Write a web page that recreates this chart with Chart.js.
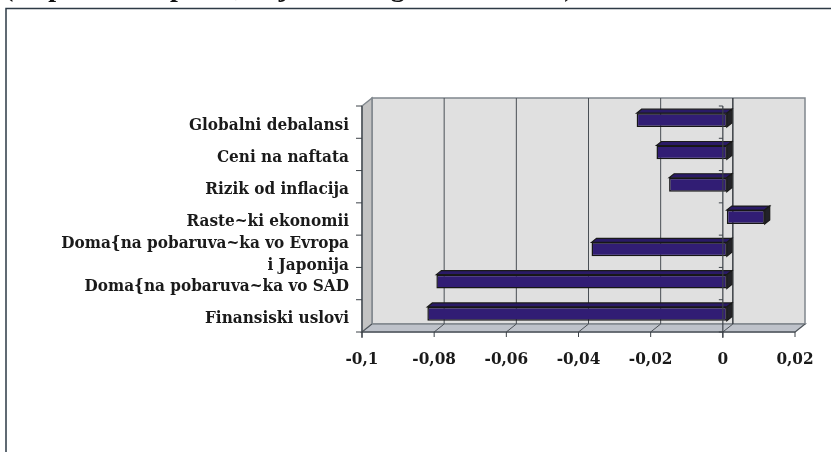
<!DOCTYPE html>
<html>
<head>
<meta charset="utf-8">
<script src="https://cdn.jsdelivr.net/npm/chart.js@4.4.0/dist/chart.umd.min.js"></script>
<style>
  body { margin: 0; background: #fff; }
  canvas { display: block; }
</style>
</head>
<body>
<canvas id="BarChart" width="831" height="452"></canvas>
<script>
const categories = [
  "Globalni debalansi",
  "Ceni na naftata",
  "Rizik od inflacija",
  "Raste~ki ekonomii",
  ["Doma{na pobaruva~ka vo Evropa", "i Japonija"],
  "Doma{na pobaruva~ka vo SAD",
  "Finansiski uslovi",
];
const values = [-0.025, -0.0195, -0.016, 0.0105, -0.0375, -0.0805, -0.083];
const xTickLabels = ["-0,1", "-0,08", "-0,06", "-0,04", "-0,02", "0", "0,02"];
const caption = "(vo procentni poeni, vlijanie vrz globalniot rast)";

const FONT = "'DejaVu Serif Condensed', 'DejaVu Serif', serif";
const depth = { dx: 10, dy: -8 };   // back wall offset
const shift = { dx: 4, dy: -2 };    // bars sit a bit behind the front plane
const face = { dx: 5, dy: -4 };     // bar thickness

function poly(ctx, pts, fill, stroke, lw) {
  ctx.beginPath();
  ctx.moveTo(pts[0][0], pts[0][1]);
  for (let i = 1; i < pts.length; i++) ctx.lineTo(pts[i][0], pts[i][1]);
  ctx.closePath();
  if (fill) { ctx.fillStyle = fill; ctx.fill(); }
  if (stroke) { ctx.strokeStyle = stroke; ctx.lineWidth = lw || 1.5; ctx.stroke(); }
}
function line(ctx, x1, y1, x2, y2, color, lw) {
  ctx.beginPath();
  ctx.moveTo(x1, y1);
  ctx.lineTo(x2, y2);
  ctx.strokeStyle = color;
  ctx.lineWidth = lw || 1;
  ctx.stroke();
}

const frame = {
  id: "frame",
  beforeDraw(chart) {
    const ctx = chart.ctx;
    ctx.save();
    // caption is cut off by the top of the picture, only descenders show
    ctx.font = "bold 28px 'Liberation Serif', serif";
    ctx.fillStyle = "#111";
    ctx.textAlign = "left";
    ctx.textBaseline = "alphabetic";
    ctx.fillText(caption, 4, -4);
    ctx.strokeStyle = "#2d3a46";
    ctx.lineWidth = 1.5;
    ctx.strokeRect(6, 8.5, 840, 470);
    ctx.restore();
  },
};

const walls = {
  id: "walls",
  beforeDatasetsDraw(chart) {
    const { ctx, chartArea: a, scales: { x } } = chart;
    const { dx, dy } = depth;
    const edge = "#80878d";
    ctx.save();
    poly(ctx, [[a.left + dx, a.top + dy], [a.right + dx, a.top + dy], [a.right + dx, a.bottom + dy], [a.left + dx, a.bottom + dy]], "#e0e0e0", edge);
    poly(ctx, [[a.left, a.top], [a.left + dx, a.top + dy], [a.left + dx, a.bottom + dy], [a.left, a.bottom]], "#c3c3c3", edge);
    poly(ctx, [[a.left, a.bottom], [a.left + dx, a.bottom + dy], [a.right + dx, a.bottom + dy], [a.right, a.bottom]], "#bec2ca", edge);
    x.ticks.forEach((t, i) => {
      const px = x.getPixelForTick(i);
      if (i > 0 && i < x.ticks.length - 1) {
        line(ctx, px + dx, a.top + dy, px + dx, a.bottom + dy, t.value === 0 ? "#3a3f44" : "#4a4f55", t.value === 0 ? 1.5 : 1);
      }
      line(ctx, px, a.bottom, px + dx, a.bottom + dy, "#4a4f55", 1);
    });
    ctx.restore();
  },
  beforeDatasetDraw(chart, args) {
    const ctx = chart.ctx;
    ctx.save();
    ctx.translate(shift.dx, shift.dy);
    args.meta.data.forEach((bar) => {
      const p = bar.getProps(["x", "y", "base", "height"], true);
      const l = Math.min(p.x, p.base), r = Math.max(p.x, p.base);
      const t = p.y - p.height / 2, b = p.y + p.height / 2;
      poly(ctx, [[l, t], [l + face.dx, t + face.dy], [r + face.dx, t + face.dy], [r, t]], "#2a1a66", "#1a1a1a", 1.2);
      poly(ctx, [[r, t], [r + face.dx, t + face.dy], [r + face.dx, b + face.dy], [r, b]], "#222228", "#1a1a1a", 1.2);
    });
  },
  afterDatasetDraw(chart) {
    chart.ctx.restore();
  },
  afterDatasetsDraw(chart) {
    const { ctx, chartArea: a, scales: { x } } = chart;
    const axis = "#3c4248";
    const n = categories.length;
    const step = a.height / n;
    const zx = x.getPixelForValue(0);
    ctx.save();
    line(ctx, a.left, a.bottom, a.right, a.bottom, axis, 1.2);
    x.ticks.forEach((t, i) => {
      const px = x.getPixelForTick(i);
      line(ctx, px, a.bottom, px, a.bottom + 5, axis, 1);
    });
    line(ctx, a.left, a.top, a.left, a.bottom + 6, axis, 1.2);
    line(ctx, zx, a.top, zx, a.bottom + 6, axis, 1.2);
    for (let k = 0; k <= n; k++) {
      const py = a.top + k * step;
      line(ctx, a.left - 6, py, a.left, py, axis, 1);
      line(ctx, zx - 4, py, zx, py, axis, 1);
    }
    ctx.restore();
  },
};

new Chart(document.getElementById("BarChart").getContext("2d"), {
  type: "bar",
  data: {
    labels: categories,
    datasets: [
      {
        data: values,
        backgroundColor: "#311d74",
        borderColor: "#161616",
        borderWidth: 1.5,
        borderSkipped: false,
        barPercentage: 0.43,
        categoryPercentage: 1,
      },
    ],
  },
  options: {
    indexAxis: "y",
    responsive: false,
    animation: false,
    layout: { padding: { left: 0, top: 106, right: 36, bottom: 0 } },
    plugins: { legend: { display: false }, tooltip: { enabled: false } },
    scales: {
      x: {
        min: -0.1,
        max: 0.02,
        grid: { display: false, drawTicks: false },
        border: { display: false },
        afterFit: (s) => { s.height = 120; },
        afterBuildTicks: (s) => {
          s.ticks = xTickLabels.map((_, i) => ({ value: -0.1 + i * 0.02 }));
        },
        ticks: {
          autoSkip: false,
          maxRotation: 0,
          padding: 17,
          color: "#1a1a1a",
          font: { family: FONT, size: 17, weight: "bold" },
          callback: (v, i) => xTickLabels[i],
        },
      },
      y: {
        grid: { display: false, drawTicks: false },
        border: { display: false },
        afterFit: (s) => { s.width = 362; },
        ticks: {
          autoSkip: false,
          padding: 13,
          labelOffset: 3,
          color: "#1a1a1a",
          font: { family: FONT, size: 17, weight: "bold", lineHeight: 1.3 },
        },
      },
    },
  },
  plugins: [frame, walls],
});
</script>
</body>
</html>
